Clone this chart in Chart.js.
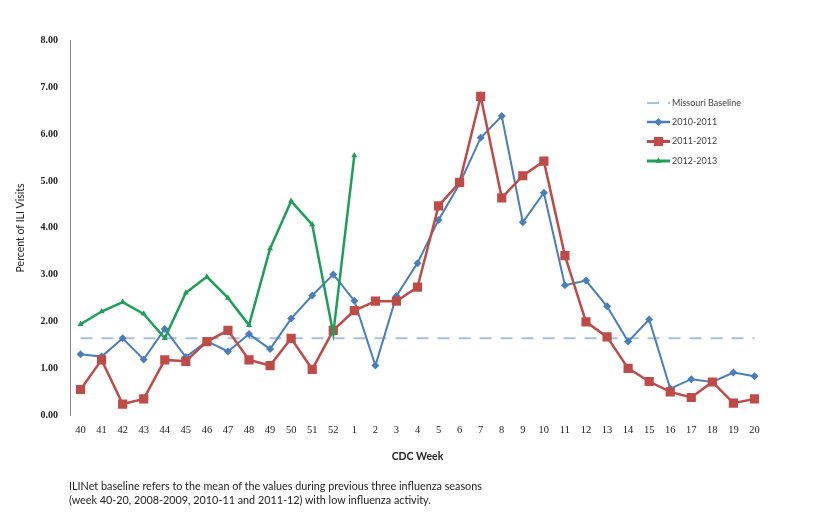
<!DOCTYPE html>
<html>
<head>
<meta charset="utf-8">
<script src="https://cdn.jsdelivr.net/npm/chart.js@4.4.0/dist/chart.umd.min.js"></script>
<style>
html, body { margin: 0; padding: 0; background: #fff; }
#wrap { position: relative; width: 814px; height: 516px; }
#note { position: absolute; left: 69px; top: 479px; font: 10.8px Lato, sans-serif; line-height: 14px; color: #222; white-space: nowrap; }
</style>
</head>
<body>
<div id="wrap">
  <canvas id="myChart" width="814" height="516"></canvas>
  <div id="note">ILINet baseline refers to the mean of the values during previous three influenza seasons<br>(week 40-20, 2008-2009, 2010-11 and 2011-12) with low influenza activity.</div>
</div>
<script>
// CDC weeks, season runs week 40 through week 20
const weeks = ['40','41','42','43','44','45','46','47','48','49','50','51','52',
  '1','2','3','4','5','6','7','8','9','10','11','12','13','14','15','16','17','18','19','20'];

const baseline = [1.65,1.65,1.65,1.65,1.65,1.65,1.65,1.65,1.65,1.65,1.65,1.65,1.65,
  1.65,1.65,1.65,1.65,1.65,1.65,1.65,1.65,1.65,1.65,1.65,1.65,1.65,1.65,1.65,1.65,1.65,1.65,1.65,1.65];

const season1011 = [1.31,1.26,1.65,1.20,1.85,1.25,1.59,1.37,1.74,1.42,2.07,2.56,3.01,
  2.45,1.07,2.55,3.25,4.17,4.94,5.92,6.38,4.12,4.75,2.78,2.88,2.33,1.58,2.05,0.58,0.78,0.72,0.92,0.84];

const season1112 = [0.56,1.19,0.25,0.36,1.19,1.16,1.58,1.82,1.19,1.07,1.65,0.99,1.82,
  2.24,2.44,2.44,2.74,4.47,4.97,6.80,4.64,5.11,5.42,3.41,2.00,1.68,1.01,0.73,0.51,0.39,0.72,0.27,0.36];

const season1213 = [1.95,2.22,2.42,2.17,1.65,2.62,2.96,2.51,1.93,3.56,4.57,4.07,1.75,
  5.54,null,null,null,null,null,null,null,null,null,null,null,null,null,null,null,null,null,null,null];

const yTicks = [0,1,2,3,4,5,6,7,8];

// legend drawn inside the plot, like the excel original
const legendBox = {
  id: 'legendBox',
  afterDraw(chart) {
    const ctx = chart.ctx;
    const rows = [103, 122, 141.5, 161];
    chart.data.datasets.forEach((ds, i) => {
      const y = rows[i];
      const x0 = 647, x1 = 670, cx = 658.5;
      ctx.save();
      ctx.strokeStyle = ds.borderColor;
      ctx.lineWidth = ds.borderWidth + (ds.pointStyle ? 0.5 : 0);
      ctx.setLineDash(ds.borderDash || []);
      ctx.beginPath();
      ctx.moveTo(x0, y);
      ctx.lineTo(x1, y);
      ctx.stroke();
      ctx.setLineDash([]);
      ctx.fillStyle = ds.pointBackgroundColor;
      const r = ds.pointRadius;
      if (ds.pointStyle === 'rectRot') {
        ctx.beginPath();
        ctx.moveTo(cx, y - r); ctx.lineTo(cx + r, y); ctx.lineTo(cx, y + r); ctx.lineTo(cx - r, y);
        ctx.closePath(); ctx.fill();
      } else if (ds.pointStyle === 'rect') {
        const s = r * Math.SQRT1_2;
        ctx.fillRect(cx - s, y - s, 2 * s, 2 * s);
      } else if (ds.pointStyle === 'triangle') {
        ctx.beginPath();
        ctx.moveTo(cx, y - r); ctx.lineTo(cx + r * 0.87, y + r * 0.5); ctx.lineTo(cx - r * 0.87, y + r * 0.5);
        ctx.closePath(); ctx.fill();
      }
      ctx.fillStyle = '#404040';
      ctx.font = '9px Lato, sans-serif';
      ctx.textBaseline = 'middle';
      ctx.fillText(ds.label, 672, y);
      ctx.restore();
    });
  }
};

var ctx = document.getElementById('myChart').getContext('2d');

var myChart = new Chart(ctx, {
  type: 'line',
  data: {
    labels: weeks,
    datasets: [{
      label: 'Missouri Baseline',
      data: baseline,
      borderColor: '#a7bfdf',
      borderWidth: 2,
      borderDash: [12, 9],
      pointRadius: 0,
      pointStyle: false,
      order: 4
    }, {
      label: '2010-2011',
      data: season1011,
      borderColor: '#4a7ebb',
      backgroundColor: '#4a7ebb',
      pointBackgroundColor: '#4a7ebb',
      borderWidth: 2,
      pointStyle: 'rectRot',
      pointRadius: 4,
      pointBorderWidth: 0,
      order: 3
    }, {
      label: '2011-2012',
      data: season1112,
      borderColor: '#be4b48',
      backgroundColor: '#be4b48',
      pointBackgroundColor: '#be4b48',
      borderWidth: 2.5,
      pointStyle: 'rect',
      pointRadius: 6.5,
      pointBorderWidth: 0,
      order: 2
    }, {
      label: '2012-2013',
      data: season1213,
      borderColor: '#1f9e5a',
      backgroundColor: '#1f9e5a',
      pointBackgroundColor: '#1f9e5a',
      borderWidth: 2.5,
      pointStyle: 'triangle',
      pointRadius: 3.5,
      pointBorderWidth: 0,
      order: 1
    }]
  },
  options: {
    responsive: false,
    animation: false,
    events: [],
    layout: { padding: { left: 8, top: 40, right: 49, bottom: 53 } },
    elements: { line: { tension: 0 } },
    plugins: { legend: { display: false }, tooltip: { enabled: false } },
    scales: {
      x: {
        offset: true,
        grid: { display: false, drawTicks: false },
        border: { display: false },
        ticks: {
          autoSkip: false, maxRotation: 0, padding: 8, color: '#222',
          font: { family: 'Liberation Serif', size: 10.5 }
        },
        title: {
          display: true, text: 'CDC Week', color: '#222',
          font: { family: 'Lato', size: 10.5, weight: 'bold' },
          padding: { top: 6, bottom: 0 }
        }
      },
      y: {
        min: 0,
        max: 8,
        afterFit: (scale) => { scale.width = 62; },
        afterBuildTicks: (scale) => { scale.ticks = yTicks.map(v => ({ value: v })); },
        grid: { display: false, drawTicks: false },
        border: { display: true, color: '#888', width: 1 },
        ticks: {
          padding: 12, color: '#222',
          font: { family: 'Liberation Serif', size: 10, weight: 'bold' },
          callback: (v) => Number(v).toFixed(2)
        },
        title: {
          display: true, text: 'Percent of ILI Visits', color: '#222',
          font: { family: 'Lato', size: 10.5 },
          padding: { top: 6, bottom: 0 }
        }
      }
    }
  },
  plugins: [legendBox]
});
</script>
</body>
</html>
